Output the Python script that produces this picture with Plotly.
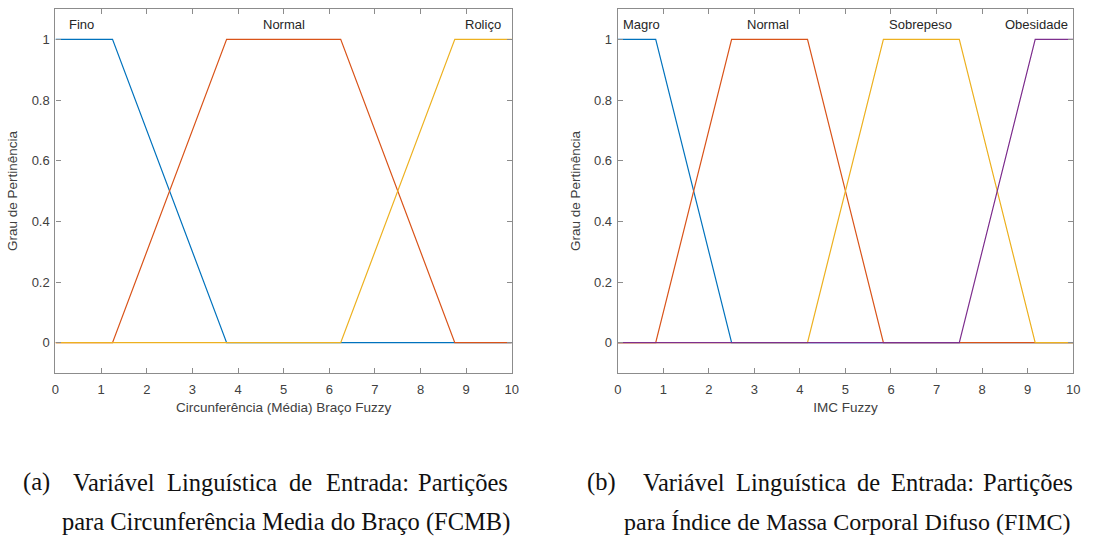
import numpy as np
import plotly.graph_objects as go

# Trapezoidal membership functions: params [a, b, c, d]
fcmb_names = ["Fino", "Normal", "Roliço"]
fcmb_params = [
    [-3.75, -1.25, 1.25, 3.75],
    [1.25, 3.75, 6.25, 8.75],
    [6.25, 8.75, 11.25, 13.75],
]
fcmb_label_x = [0.56, 5.0, 9.375]

fimc_names = ["Magro", "Normal", "Sobrepeso", "Obesidade"]
fimc_params = [
    [-2.5, -0.8333, 0.8333, 2.5],
    [0.8333, 2.5, 4.1667, 5.8333],
    [4.1667, 5.8333, 7.5, 9.1667],
    [7.5, 9.1667, 10.8333, 12.5],
]
fimc_label_x = [0.53, 3.3, 6.64, 9.19]

x_ticks = list(range(0, 11))
y_ticks = [0, 0.2, 0.4, 0.6, 0.8, 1]
y_tick_text = ["0", "0.2", "0.4", "0.6", "0.8", "1"]

colors = ["#0072BD", "#D95319", "#EDB120", "#7E2F8E"]

x_title_a = "Circunferência (Média) Braço Fuzzy"
x_title_b = "IMC Fuzzy"
y_title = "Grau de Pertinência"

caption_a_line1 = ["Variável", "Linguística", "de", "Entrada:", "Partições"]
caption_a_line2 = "para Circunferência Media do Braço (FCMB)"
caption_b_line1 = ["Variável", "Linguística", "de", "Entrada:", "Partições"]
caption_b_line2 = "para Índice de Massa Corporal Difuso (FIMC)"


def trapmf(x, p):
    a, b, c, d = p
    left = (x - a) / (b - a)
    right = (d - x) / (d - c)
    return np.clip(np.minimum(np.minimum(left, right), 1.0), 0.0, 1.0)


def mf_xy(p):
    pts = sorted(set([0.0, 10.0] + [v for v in p if 0 <= v <= 10]))
    xs = np.array(pts)
    return xs, trapmf(xs, p)


W, H = 1094, 541
fig = go.Figure()

axis_col = "#8c8c8c"
sans = "Liberation Sans, Arial, sans-serif"
tick_font = dict(family=sans, size=13, color="#404040")
title_font = dict(family=sans, size=13.5, color="#404040")

panels = [
    ("x", "y", fcmb_names, fcmb_params, fcmb_label_x, x_title_a, (52, 513)),
    ("x2", "y2", fimc_names, fimc_params, fimc_label_x, x_title_b, (620, 1080)),
]
y_px = (9, 373)

for xa, ya, names, params, label_x, xtitle, xpx in panels:
    for i, (name, p) in enumerate(zip(names, params)):
        xs, ys = mf_xy(p)
        fig.add_trace(go.Scatter(x=xs, y=ys, mode="lines", xaxis=xa, yaxis=ya,
                                 line=dict(color=colors[i], width=1.2),
                                 showlegend=False, hoverinfo="skip"))
        fig.add_annotation(x=label_x[i], y=1.048, xref=xa, yref=ya, text=name,
                           showarrow=False, xanchor="center", yanchor="middle",
                           font=dict(family=sans, size=13, color="#262626"))
    dom_x = [xpx[0] / W, xpx[1] / W]
    dom_y = [1 - y_px[1] / H, 1 - y_px[0] / H]
    xkey = "xaxis" if xa == "x" else "xaxis2"
    ykey = "yaxis" if ya == "y" else "yaxis2"
    fig.update_layout(**{
        xkey: dict(domain=dom_x, range=[0, 10], tickvals=x_ticks,
                   ticks="inside", ticklen=5, tickcolor=axis_col,
                   showline=True, linecolor=axis_col, linewidth=1.3, mirror="ticks",
                   showgrid=False, zeroline=False, tickfont=tick_font,
                   ticklabelstandoff=4,
                   title=dict(text=xtitle, font=title_font, standoff=6),
                   anchor=ya),
        ykey: dict(domain=dom_y, range=[-0.1, 1.1], tickvals=y_ticks, ticktext=y_tick_text,
                   ticks="inside", ticklen=5, tickcolor=axis_col,
                   showline=True, linecolor=axis_col, linewidth=1.3, mirror="ticks",
                   showgrid=False, zeroline=False, tickfont=tick_font,
                   ticklabelstandoff=2,
                   title=dict(text=y_title, font=title_font, standoff=10),
                   anchor=xa),
    })

# Captions below each panel
serif = "Liberation Serif, Times New Roman, serif"
cap_font = dict(family=serif, size=24.5, color="#111111")
cap_font_b2 = dict(family=serif, size=24, color="#111111")


def px_ann(x, y, text, anchor="center", font=cap_font):
    fig.add_annotation(x=x / W, y=1 - y / H, xref="paper", yref="paper", text=text,
                       showarrow=False, xanchor=anchor, yanchor="middle", font=font)


line1_y, line2_y = 482, 522
px_ann(17, line1_y, "(a)", "left")
for word, cx in zip(caption_a_line1, [111, 220, 299.5, 367, 464]):
    px_ann(cx, line1_y, word)
px_ann(513, line2_y, caption_a_line2, "right")

px_ann(587, line1_y, "(b)", "left")
for word, cx in zip(caption_b_line1, [687, 795, 873, 938, 1034]):
    px_ann(cx, line1_y, word)
px_ann(1080, line2_y, caption_b_line2, "right", cap_font_b2)

fig.update_layout(width=W, height=H, margin=dict(l=0, r=0, t=0, b=0),
                  plot_bgcolor="white", paper_bgcolor="white")

fig.write_html("out.html")
